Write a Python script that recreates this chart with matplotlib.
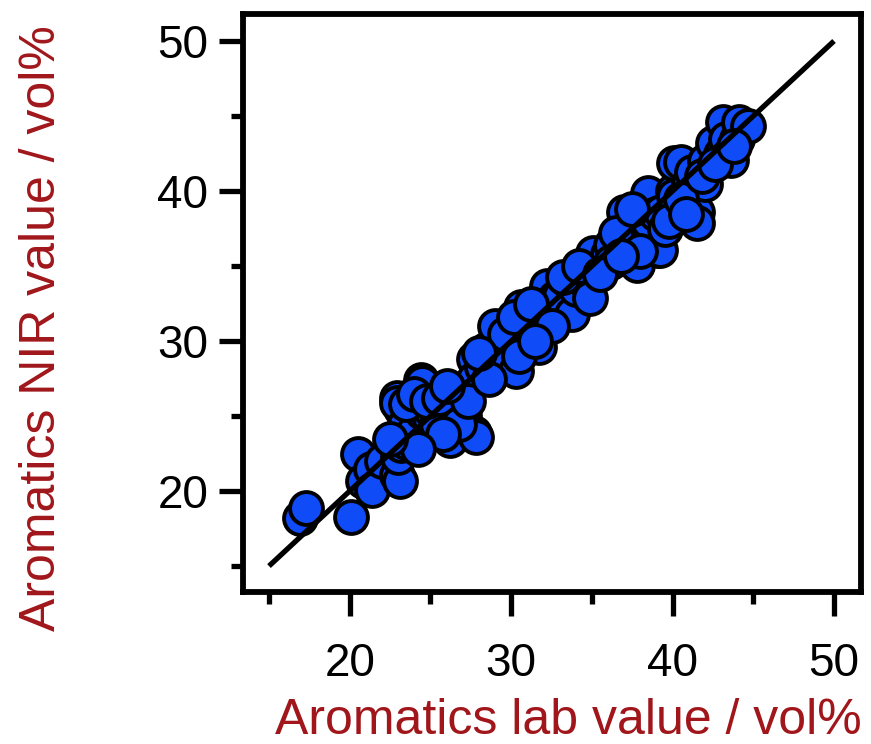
import matplotlib
matplotlib.use("Agg")
import matplotlib.pyplot as plt
from matplotlib.ticker import MultipleLocator

plt.rcParams['font.family'] = ['Liberation Sans', 'DejaVu Sans']

# lab value vs NIR predicted value (vol%)
lab_value = [
    16.9, 17.3, 20.1, 20.5, 20.8, 21.3, 21.4, 22.0, 22.9, 23.1, 23.0, 23.2,
    23.2, 22.9, 22.9, 23.4, 23.5, 24.0, 24.4, 24.5, 24.5, 25.0, 25.0, 25.4,
    26.1, 26.1, 26.2, 26.2, 26.5, 26.6, 27.0, 27.1, 27.7, 27.8, 27.7, 28.0,
    27.7, 28.2, 28.5, 29.0, 29.0, 29.3, 29.5, 30.0, 30.3, 30.6, 30.9, 31.0,
    31.4, 31.7, 31.9, 32.0, 32.2, 32.7, 33.0, 33.5, 33.8, 34.0, 34.6, 34.9,
    35.0, 35.1, 36.0, 36.2, 36.2, 37.0, 37.0, 37.2, 37.8, 38.0, 38.3, 38.5,
    38.5, 39.0, 39.1, 39.2, 39.3, 39.5, 40.0, 40.1, 40.1, 40.5, 41.0, 41.2,
    41.5, 41.5, 42.0, 42.0, 42.5, 43.0, 43.1, 43.3, 43.4, 43.6, 44.0, 44.1,
    44.7,
    23.5, 24.0, 24.8, 25.5, 26.8, 25.8, 24.2, 22.5, 27.3, 26.0, 28.6, 29.6,
    30.2, 31.2, 32.5, 33.2, 34.2, 35.5, 36.5, 37.5, 38.0, 39.8, 40.5, 40.8,
    41.8, 42.6, 43.8, 36.8, 30.5, 31.5, 28.0,
]
nir_value = [
    18.2, 18.9, 18.3, 22.5, 20.7, 21.5, 20.1, 22.0, 21.1, 20.7, 22.3, 23.1,
    25.5, 26.2, 25.9, 24.5, 23.3, 24.0, 27.4, 27.2, 25.3, 24.8, 25.5, 24.5,
    26.3, 23.9, 23.4, 26.1, 25.5, 25.8, 26.8, 25.0, 23.9, 23.6, 28.8, 27.5,
    27.5, 28.3, 29.5, 31.0, 28.0, 28.8, 29.0, 30.5, 28.0, 32.3, 29.6, 30.5,
    31.3, 29.6, 32.1, 31.5, 33.7, 32.9, 33.0, 34.0, 31.8, 33.5, 34.0, 32.9,
    35.0, 35.9, 35.8, 36.4, 35.3, 38.6, 36.5, 37.5, 35.1, 37.5, 39.1, 39.9,
    38.0, 38.5, 36.1, 36.1, 38.6, 37.5, 40.0, 39.7, 41.9, 41.95, 40.5, 41.3,
    38.6, 37.9, 40.5, 42.0, 43.2, 42.5, 44.6, 43.5, 42.3, 42.1, 43.5, 44.6,
    44.3,
    25.8, 26.5, 26.0, 26.2, 24.5, 23.8, 22.8, 23.5, 26.0, 27.0, 27.5, 30.5,
    31.6, 32.5, 31.0, 34.3, 35.0, 34.5, 37.2, 38.8, 36.0, 38.0, 39.5, 38.5,
    41.0, 41.8, 43.0, 35.7, 29.0, 30.0, 29.2,
]
ideal = [15, 50]

label_red = '#A0161B'
marker_blue = '#0F4BF7'

fig = plt.figure(figsize=(8.71, 7.44), dpi=100)
ax = fig.add_axes([0.279, 0.2043, 0.7095, 0.7769])

ax.scatter(lab_value, nir_value, s=560, c=marker_blue, edgecolors='black',
           linewidths=2.8, zorder=2)
ax.plot(ideal, ideal, color='black', lw=3.8, solid_capstyle='butt', zorder=3)

ax.set_xlim(13.39, 51.67)
ax.set_ylim(13.27, 51.8)

ax.xaxis.set_major_locator(MultipleLocator(10))
ax.xaxis.set_minor_locator(MultipleLocator(5))
ax.yaxis.set_major_locator(MultipleLocator(10))
ax.yaxis.set_minor_locator(MultipleLocator(5))

for sp in ax.spines.values():
    sp.set_linewidth(4.2)

ax.tick_params(axis='both', which='major', direction='out', length=17,
               width=3.8, labelsize=33)
ax.tick_params(axis='both', which='minor', direction='out', length=8.5,
               width=3.8)
ax.tick_params(axis='x', which='major', pad=19)
ax.tick_params(axis='y', which='major', pad=8)

ax.set_xlabel('Aromatics lab value / vol%', fontsize=36, color=label_red,
              va='center')
ax.set_ylabel('Aromatics NIR value / vol%', fontsize=36, color=label_red,
              va='center')
ax.xaxis.set_label_coords(0.526, -0.224)
ax.yaxis.set_label_coords(-0.325, 0.457)

fig.savefig('out.png', dpi=100)
